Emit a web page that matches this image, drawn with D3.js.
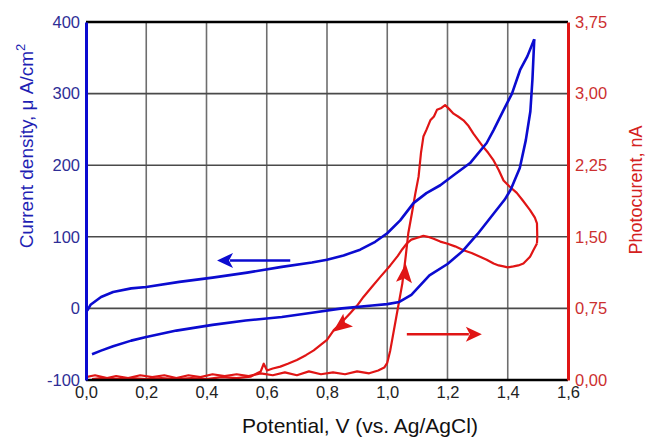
<!DOCTYPE html>
<html>
<head>
<meta charset="utf-8">
<script src="https://cdn.jsdelivr.net/npm/d3@7"></script>
<style>
  body { margin: 0; background: #fff; }
  svg { display: block; font-family: "Liberation Sans", Arial, sans-serif; }
</style>
</head>
<body>
<svg id="chart" width="646" height="440"></svg>
<script>
// cyclic voltammogram, forward scan (0 -> 1.5 V) and reverse scan, uA/cm2
var cvForward = [
  [0.02, -64], [0.05, -59], [0.09, -53], [0.15, -45], [0.2, -40], [0.3, -31],
  [0.42, -23], [0.53, -17], [0.65, -12], [0.75, -6], [0.85, 0], [0.95, 4],
  [1.0, 6], [1.04, 9], [1.08, 19], [1.14, 46], [1.2, 62], [1.25, 80],
  [1.3, 104], [1.36, 136], [1.39, 152], [1.41, 166], [1.44, 196], [1.46, 235],
  [1.475, 275], [1.482, 320], [1.488, 376]
];
var cvReverse = [
  [1.488, 376], [1.465, 352], [1.441, 333], [1.414, 300], [1.386, 277], [1.353, 249],
  [1.33, 231], [1.275, 203], [1.22, 186], [1.176, 172], [1.13, 161], [1.087, 147],
  [1.043, 123], [1.0, 105], [0.96, 93], [0.91, 82], [0.855, 74], [0.8, 68],
  [0.75, 64], [0.65, 58], [0.535, 50], [0.42, 43], [0.31, 37], [0.2, 30],
  [0.15, 28], [0.09, 23], [0.05, 16], [0.015, 5], [0.004, -3]
];

// photocurrent, nA
var pcForward = [
  [0.0, 0.03], [0.03, 0.05], [0.07, 0.02], [0.1, 0.04], [0.14, 0.02], [0.18, 0.05],
  [0.22, 0.03], [0.26, 0.05], [0.3, 0.02], [0.34, 0.05], [0.38, 0.03], [0.42, 0.06],
  [0.46, 0.04], [0.5, 0.06], [0.54, 0.04], [0.58, 0.07], [0.62, 0.05], [0.66, 0.08],
  [0.7, 0.05], [0.74, 0.09], [0.78, 0.06], [0.82, 0.08], [0.86, 0.06], [0.9, 0.09],
  [0.94, 0.07], [0.97, 0.1], [0.99, 0.13], [1.0, 0.18], [1.01, 0.31], [1.03, 0.66],
  [1.05, 1.01], [1.06, 1.26], [1.07, 1.54], [1.082, 1.75], [1.093, 1.95], [1.104, 2.13],
  [1.112, 2.38], [1.12, 2.55], [1.13, 2.62], [1.143, 2.72], [1.155, 2.76], [1.165, 2.83],
  [1.18, 2.85], [1.192, 2.88], [1.205, 2.84], [1.22, 2.79], [1.235, 2.76], [1.253, 2.72],
  [1.27, 2.66], [1.286, 2.58], [1.3, 2.52], [1.319, 2.44], [1.335, 2.38], [1.353, 2.30],
  [1.37, 2.2], [1.386, 2.09], [1.405, 2.03], [1.43, 1.96], [1.45, 1.88], [1.474, 1.78],
  [1.49, 1.7], [1.497, 1.64], [1.498, 1.5], [1.497, 1.43]
];
var pcReverse = [
  [1.497, 1.43], [1.485, 1.36], [1.474, 1.29], [1.452, 1.22], [1.435, 1.2], [1.419, 1.19],
  [1.4, 1.18], [1.386, 1.19], [1.37, 1.2], [1.353, 1.22], [1.33, 1.26], [1.308, 1.29],
  [1.28, 1.33], [1.253, 1.36], [1.225, 1.4], [1.198, 1.43], [1.176, 1.45], [1.154, 1.48],
  [1.135, 1.5], [1.12, 1.51], [1.1, 1.49], [1.08, 1.47], [1.065, 1.43], [1.05, 1.37],
  [1.035, 1.3], [1.01, 1.2], [0.977, 1.08], [0.95, 0.98], [0.921, 0.87], [0.9, 0.78],
  [0.877, 0.70], [0.844, 0.59], [0.822, 0.52], [0.8, 0.42], [0.78, 0.37], [0.756, 0.31],
  [0.73, 0.26], [0.70, 0.21], [0.67, 0.17], [0.645, 0.14], [0.62, 0.12], [0.601, 0.10],
  [0.59, 0.17], [0.58, 0.09], [0.568, 0.07], [0.546, 0.035], [0.5, 0.02], [0.45, 0.03],
  [0.4, 0.01], [0.35, 0.02], [0.3, 0.01], [0.25, 0.02], [0.2, 0.01], [0.15, 0.02],
  [0.1, 0.01], [0.05, 0.02], [0.02, 0.01]
];

var xTicks = [0, 0.2, 0.4, 0.6, 0.8, 1.0, 1.2, 1.4, 1.6];
var yLeftTicks = [-100, 0, 100, 200, 300, 400];
var yRightTicks = [0, 0.75, 1.5, 2.25, 3.0, 3.75];

// arrows: axis, from, to, and whether a shaft is drawn
var arrows = [
  { axis: "left", from: [0.678, 67], to: [0.435, 67], line: true },
  { axis: "right", from: [1.065, 0.48], to: [1.314, 0.48], line: true },
  { axis: "right", from: [1.055, 1.0], to: [1.061, 1.22], line: false },
  { axis: "right", from: [0.884, 0.66], to: [0.82, 0.506], line: false }
];

var blue = "#0b0bd0";
var red = "#e01515";

var margin = { left: 86, right: 78, top: 22, bottom: 60 };
var width = 646, height = 440;

var locale = d3.formatLocale({ decimal: ",", thousands: ".", grouping: [3], currency: ["", ""], minus: "-" });

var x = d3.scaleLinear().domain([0, 1.6]).range([margin.left, width - margin.right]);
var yL = d3.scaleLinear().domain([-100, 400]).range([height - margin.bottom, margin.top]);
var yR = d3.scaleLinear().domain([0, 3.75]).range([height - margin.bottom, margin.top]);

var svg = d3.select("#chart");

// grid
var grid = svg.append("g").attr("class", "grid");
grid.selectAll(".vg").data(xTicks.slice(1, -1)).enter().append("line")
  .attr("x1", function(d) { return x(d); }).attr("x2", function(d) { return x(d); })
  .attr("y1", yL(-100)).attr("y2", yL(400))
  .attr("stroke", "#6e6e6e").attr("stroke-width", 1.6);
grid.selectAll(".hg").data(yLeftTicks.slice(1, -1)).enter().append("line")
  .attr("y1", function(d) { return yL(d); }).attr("y2", function(d) { return yL(d); })
  .attr("x1", x(0)).attr("x2", x(1.6))
  .attr("stroke", "#4a4a4a").attr("stroke-width", 1.6);

// series
var lineL = d3.line().x(function(d) { return x(d[0]); }).y(function(d) { return yL(d[1]); });
var lineR = d3.line().x(function(d) { return x(d[0]); }).y(function(d) { return yR(d[1]); });

[pcForward, pcReverse].forEach(function(s) {
  svg.append("path").datum(s).attr("d", lineR)
    .attr("fill", "none").attr("stroke", red).attr("stroke-width", 2.2)
    .attr("stroke-linejoin", "round");
});
[cvForward, cvReverse].forEach(function(s) {
  svg.append("path").datum(s).attr("d", lineL)
    .attr("fill", "none").attr("stroke", blue).attr("stroke-width", 2.6)
    .attr("stroke-linejoin", "round");
});

// arrows
arrows.forEach(function(a) {
  var ys = a.axis === "left" ? yL : yR;
  var col = a.axis === "left" ? blue : red;
  var x1 = x(a.from[0]), y1 = ys(a.from[1]), x2 = x(a.to[0]), y2 = ys(a.to[1]);
  var ang = Math.atan2(y2 - y1, x2 - x1);
  var len = a.line ? 16 : 19, hw = a.line ? 7.5 : 8;
  var bx = x2 - len * Math.cos(ang), by = y2 - len * Math.sin(ang);
  if (a.line) {
    svg.append("line").attr("x1", x1).attr("y1", y1).attr("x2", bx + 3 * Math.cos(ang)).attr("y2", by + 3 * Math.sin(ang))
      .attr("stroke", col).attr("stroke-width", 2.6);
  }
  var px = -Math.sin(ang), py = Math.cos(ang);
  var notch = 4;
  var nx = bx + notch * Math.cos(ang), ny = by + notch * Math.sin(ang);
  svg.append("path")
    .attr("d", "M" + x2 + "," + y2 +
      "L" + (bx + hw * px) + "," + (by + hw * py) +
      "L" + nx + "," + ny +
      "L" + (bx - hw * px) + "," + (by - hw * py) + "Z")
    .attr("fill", col);
});

// frame
svg.append("line").attr("x1", x(0)).attr("x2", x(1.6)).attr("y1", yL(400)).attr("y2", yL(400))
  .attr("stroke", "#000").attr("stroke-width", 2.5);
svg.append("line").attr("x1", x(0)).attr("x2", x(1.6)).attr("y1", yL(-100)).attr("y2", yL(-100))
  .attr("stroke", "#000").attr("stroke-width", 2.5);

// axes
var xAxis = d3.axisBottom(x).tickValues(xTicks).tickFormat(locale.format(".1f")).tickSize(0).tickPadding(6);
var gx = svg.append("g").attr("transform", "translate(0," + yL(-100) + ")").call(xAxis);
gx.select(".domain").remove();
gx.selectAll("text").attr("fill", "#222").attr("font-size", 16.5).attr("font-family", "Liberation Sans, Arial, sans-serif");

var yAxisL = d3.axisLeft(yL).tickValues(yLeftTicks).tickFormat(locale.format("d")).tickSize(0).tickPadding(6);
var gyl = svg.append("g").attr("transform", "translate(" + x(0) + ",0)").call(yAxisL);
gyl.select(".domain").attr("stroke", blue).attr("stroke-width", 3);
gyl.selectAll("text").attr("fill", "#2e2e96").attr("font-size", 16.5).attr("font-family", "Liberation Sans, Arial, sans-serif");

var yAxisR = d3.axisRight(yR).tickValues(yRightTicks).tickFormat(locale.format(".2f")).tickSize(0).tickPadding(7);
var gyr = svg.append("g").attr("transform", "translate(" + x(1.6) + ",0)").call(yAxisR);
gyr.select(".domain").attr("stroke", red).attr("stroke-width", 3);
gyr.selectAll("text").attr("fill", "#cc3030").attr("font-size", 16.5).attr("font-family", "Liberation Sans, Arial, sans-serif");

// titles
svg.append("text").attr("x", 360).attr("y", 433)
  .attr("text-anchor", "middle").attr("font-size", 21).attr("fill", "#111")
  .text("Potential, V (vs. Ag/AgCl)");

var lt = svg.append("text").attr("transform", "translate(33,146) rotate(-90)")
  .attr("text-anchor", "middle").attr("font-size", 19).attr("fill", "#1f1fb4");
lt.append("tspan").text("Current density, \u03bc A/cm");
lt.append("tspan").attr("dy", -8).attr("font-size", 13).text("2");

svg.append("text").attr("transform", "translate(642,190) rotate(-90)")
  .attr("text-anchor", "middle").attr("font-size", 18).attr("fill", "#d42020")
  .text("Photocurent, nA");
</script>
</body>
</html>
